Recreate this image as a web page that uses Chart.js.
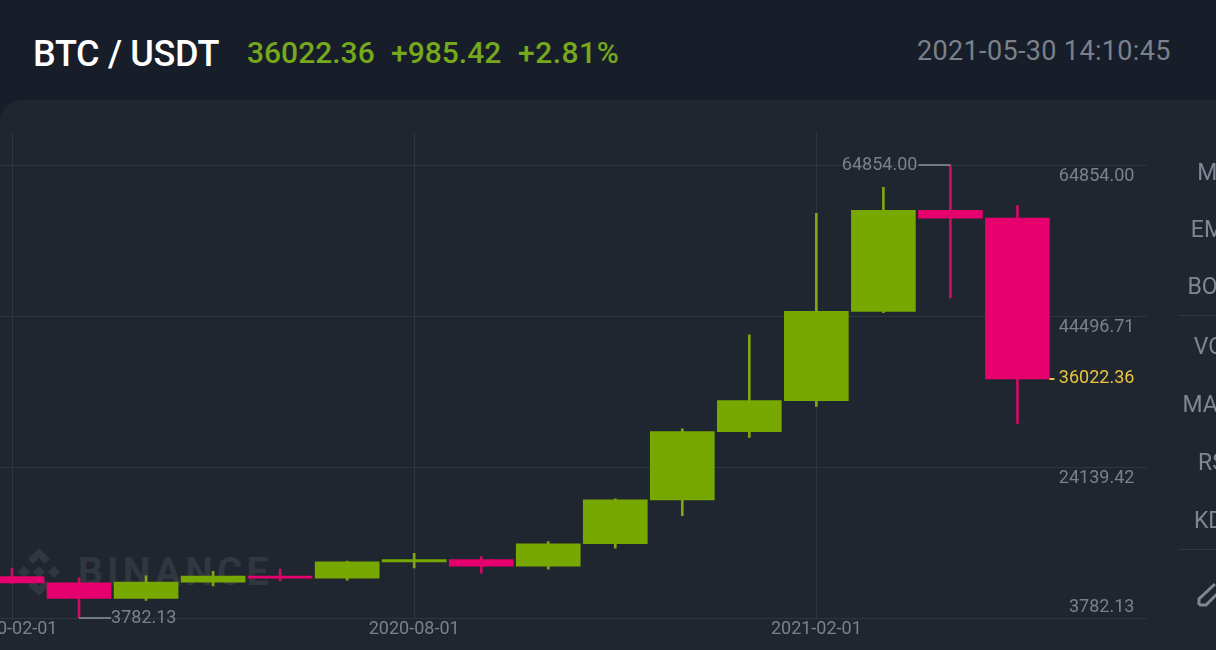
<!DOCTYPE html>
<html><head><meta charset="utf-8">
<script src="https://cdn.jsdelivr.net/npm/chart.js@4"></script>
<style>
html,body{margin:0;padding:0;width:1216px;height:650px;overflow:hidden;background:#171e29;font-family:Roboto,sans-serif}
.t{position:absolute;white-space:nowrap;line-height:1}
#panel{position:absolute;left:0;top:100px;width:1260px;height:560px;background:#1f2630;border-top-left-radius:22px}
#wrap{position:absolute;left:0;top:0;width:1147px;height:650px;overflow:hidden}
#c{position:absolute;left:-22px;top:0}
.side{position:absolute;left:1115px;width:200px;text-align:center;font-size:23px;color:#7f8792;line-height:1}
.sep{position:absolute;left:1178px;width:40px;height:1px;background:#2f3743}
</style></head><body>
<div class="t" style="left:33px;top:36px;font-size:36px;font-weight:500;color:#fff;letter-spacing:-.3px">BTC / USDT</div>
<div class="t" style="left:247px;top:38px;font-size:30px;font-weight:500;color:#76a81c">36022.36</div>
<div class="t" style="left:391px;top:38px;font-size:30px;font-weight:500;color:#76a81c">+985.42</div>
<div class="t" style="left:518px;top:38px;font-size:30px;font-weight:500;color:#76a81c;letter-spacing:.5px">+2.81%</div>
<div class="t" style="left:917px;top:38px;font-size:27px;color:#7a818b;letter-spacing:.35px">2021-05-30 14:10:45</div>
<div id="panel"></div>
<svg style="position:absolute;left:0;top:540px" width="290" height="65">
  <g fill="#30373f">
    <path d="M39 8l11 11-5 5-6-6-6 6-5-5z"/><path d="M39 56l-11-11 5-5 6 6 6-6 5 5z"/>
    <path d="M18 32l6-6 6 6-6 6z"/><path d="M48 32l6-6 6 6-6 6z"/><path d="M33 32l6-6 6 6-6 6z"/>
  </g>
  <text x="78" y="45" font-family="Roboto" font-weight="700" font-size="39" letter-spacing="4.2" fill="#30373f">BINANCE</text>
</svg>
<div id="wrap"><canvas id="c" width="1207" height="650"></canvas></div>
<div class="side" style="top:161px">MA</div>
<div class="side" style="top:218px">EMA</div>
<div class="side" style="top:275px">BOLL</div>
<div class="sep" style="top:315px"></div>
<div class="side" style="top:335px">VOL</div>
<div class="side" style="top:393px">MACD</div>
<div class="side" style="top:451px">RSI</div>
<div class="side" style="top:509px">KDJ</div>
<div class="sep" style="top:549px"></div>
<svg style="position:absolute;left:1196px;top:580px" width="20" height="30"><path d="M3 25V19L19 4M3 25H10L22 13" fill="none" stroke="#7f8792" stroke-width="3"/></svg>
<script>
const categories=['2020-02-01','2020-03-01','2020-04-01','2020-05-01','2020-06-01','2020-07-01','2020-08-01','2020-09-01','2020-10-01','2020-11-01','2020-12-01','2021-01-01','2021-02-01','2021-03-01','2021-04-01','2021-05-01','2021-06-01','2021-07-01'];
const opens =[9350,8520,6410,8620,9450,9140,11340,11650,10780,13790,19700,28920,33090,45130,58740,57700,null,null];
const closes=[8520,6410,8620,9450,9140,11340,11650,10780,13790,19700,28920,33090,45130,58740,57700,36022.36,null,null];
const highs =[10500,9190,9460,10070,10380,11440,12490,12070,14100,19860,29300,41950,58350,61840,64854,59400,null,null];
const lows  =[8450,3782.13,6150,8120,8830,8890,10520,9820,10380,13200,17570,28130,32300,44950,46930,30000,null,null];
const xTickLabels=['2020-02-01','2020-08-01','2021-02-01'];
const yTicks=[3782.13,24139.42,44496.71,64854];
const yTickLabels=['3782.13','24139.42','44496.71','64854.00'];
const lastPrice=36022.36, lastLabel='36022.36';
const maxPrice=64854, maxLabel='64854.00', minPrice=3782.13, minLabel='3782.13';

const GREEN='#76a800', PINK='#e5006d', WICKG='#80a814', WICKP='#cc0d68', GRID='#2d3540', AXIS='#7a818c', GOLD='#e9c43f', LEADER='#8d939c';
const col=ctx=>{const i=ctx.dataIndex;return closes[i]>=opens[i]?GREEN:PINK;};
const wickCol=ctx=>{const i=ctx.dataIndex;return closes[i]>=opens[i]?WICKG:WICKP;};
const pair=(a,b)=>a.map((v,i)=>v==null?null:[v,b[i]]);

const overlay={id:'overlay',afterDatasetsDraw(chart){
  const g=chart.ctx,y=chart.scales.y,x=chart.scales.x;
  g.save();g.font='18px Roboto';g.textBaseline='middle';g.textAlign='right';g.fillStyle=AXIS;
  const right=x.getPixelForValue(15)+117;
  yTicks.forEach((v,i)=>{const p=y.getPixelForValue(v);
    g.fillText(yTickLabels[i],right,i===0?p-11:p+11);});
  g.fillStyle=GOLD;g.fillText(lastLabel,right,y.getPixelForValue(lastPrice));
  g.fillRect(x.getPixelForValue(15)+32,Math.round(y.getPixelForValue(lastPrice))-1,5,2);
  const hx=x.getPixelForValue(highs.indexOf(maxPrice)),hy=y.getPixelForValue(maxPrice);
  const lx=x.getPixelForValue(lows.indexOf(minPrice)),ly=y.getPixelForValue(minPrice);
  g.strokeStyle=LEADER;g.lineWidth=1.5;g.beginPath();
  g.moveTo(hx,hy);g.lineTo(hx-32,hy);g.moveTo(lx,ly);g.lineTo(lx+32,ly);g.stroke();
  g.fillStyle=AXIS;g.textAlign='right';g.fillText(maxLabel,hx-33,hy);
  g.textAlign='left';g.fillText(minLabel,lx+32,ly);
  g.restore();
}};

new Chart(document.getElementById('c'),{
  type:'bar',
  data:{labels:categories,datasets:[
    {label:'wick',data:pair(lows,highs),backgroundColor:wickCol,barThickness:2,grouped:false,order:2},
    {label:'body',data:pair(opens,closes),backgroundColor:col,barThickness:64,grouped:false,order:1}
  ]},
  options:{
    responsive:false,animation:false,
    layout:{padding:{left:0.5,right:0,top:132,bottom:0}},
    plugins:{legend:{display:false},tooltip:{enabled:false}},
    datasets:{bar:{borderWidth:0,borderSkipped:false}},
    scales:{
      x:{type:'category',
        grid:{color:GRID,lineWidth:1,drawTicks:false,offset:false},
        border:{display:false},
        afterBuildTicks:s=>{s.ticks=s.ticks.filter(t=>xTickLabels.includes(categories[t.value]));},
        afterFit:s=>{s.height=32;s.paddingLeft=0;s.paddingRight=0;},
        ticks:{autoSkip:false,maxRotation:0,minRotation:0,padding:1,color:AXIS,font:{family:'Roboto',size:18}}},
      y:{type:'linear',position:'right',min:3782.13,max:69305,
        grid:{color:GRID,lineWidth:1,drawTicks:false},
        border:{display:false},
        afterBuildTicks:s=>{s.ticks=yTicks.map(v=>({value:v}));},
        ticks:{display:false}}
    }
  },
  plugins:[overlay]
});
</script>
</body></html>
